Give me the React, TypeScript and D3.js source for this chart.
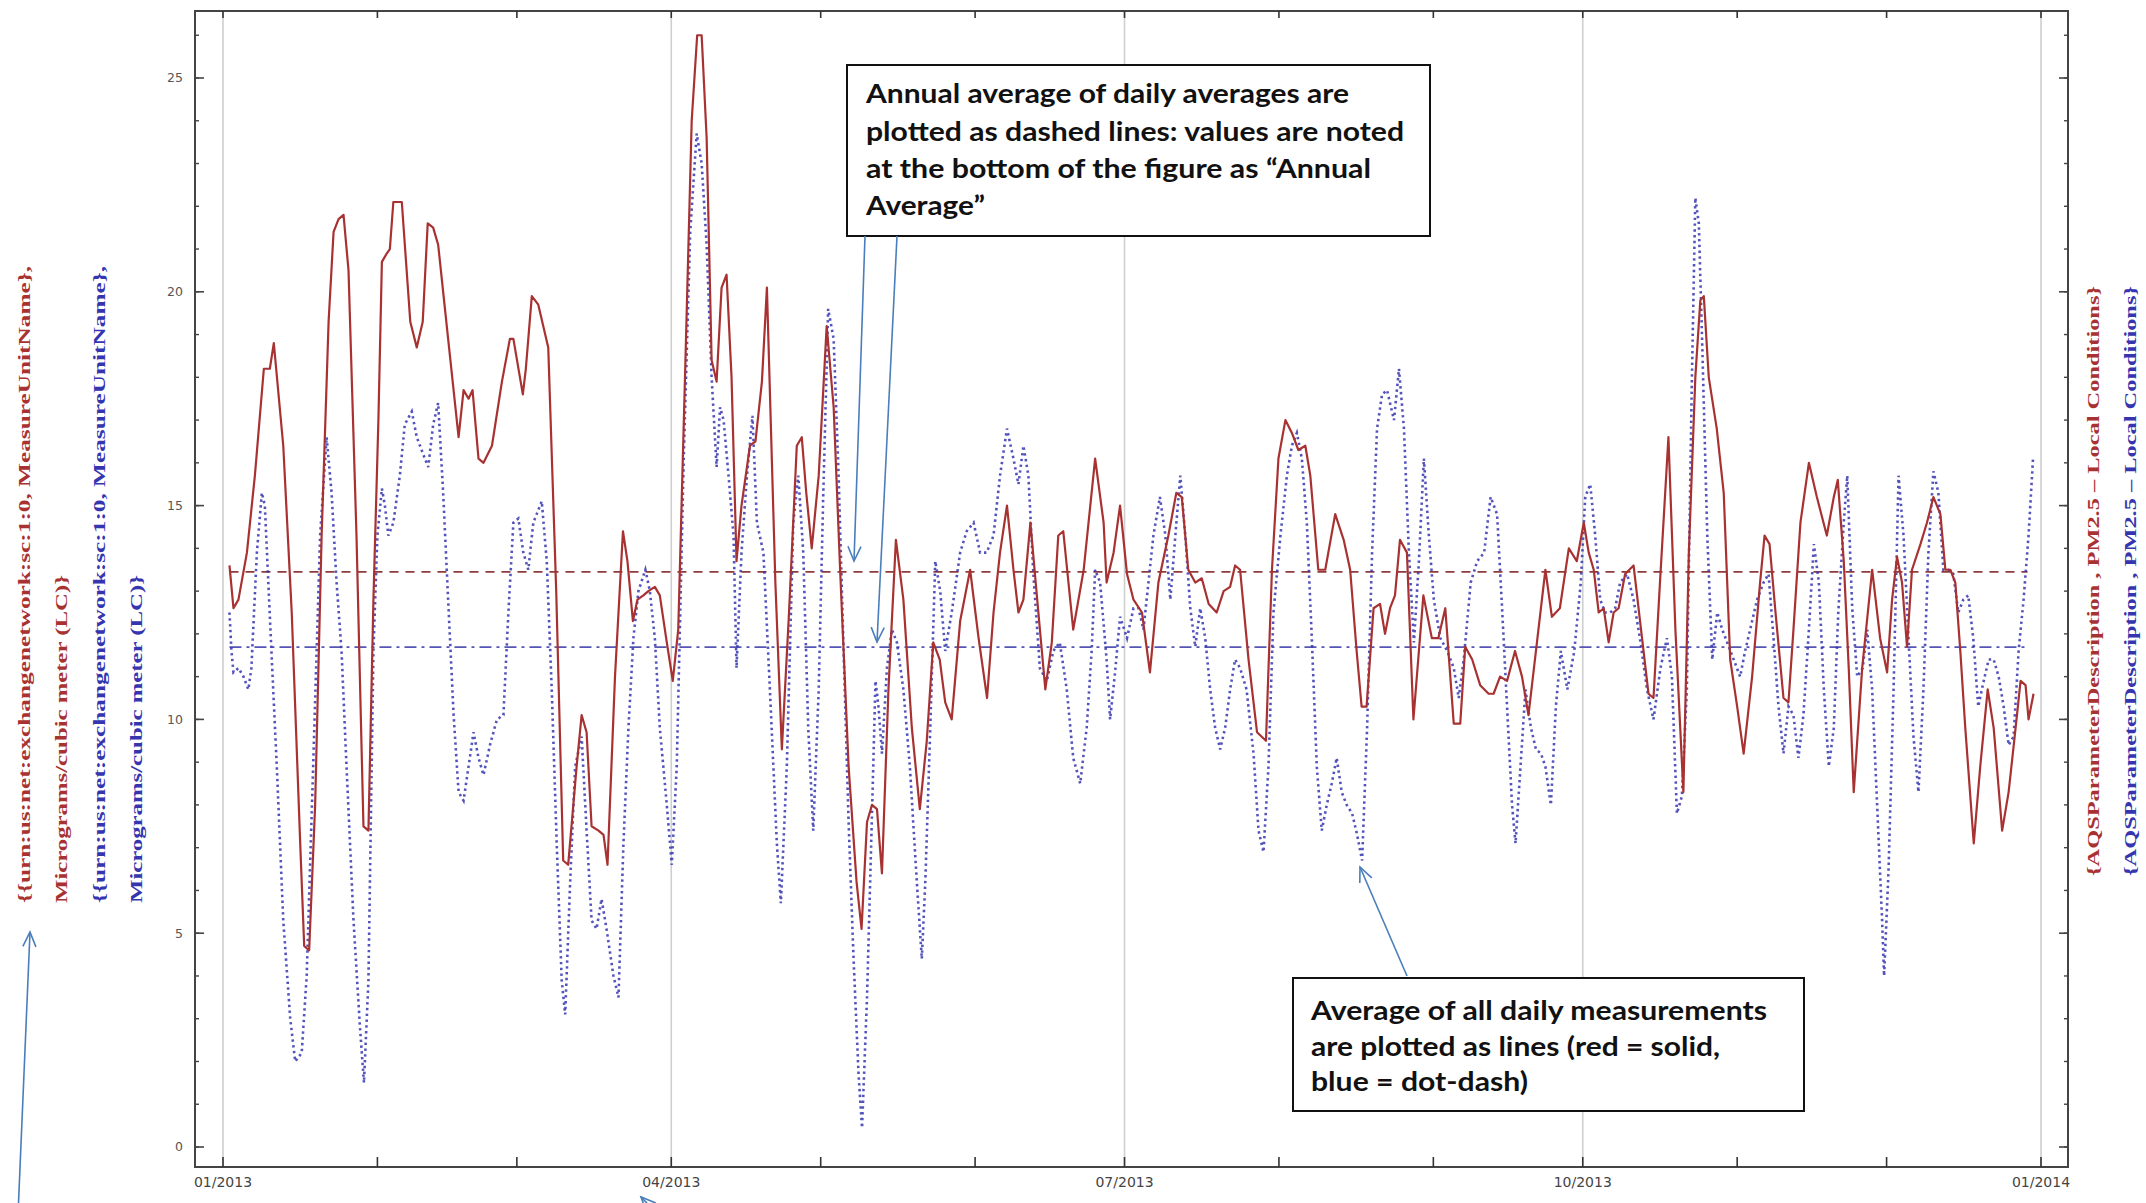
import React from "react";
import * as d3 from "d3";

// ---------- DATA (day offset from 01/01/2013, value in µg/m³) ----------
const redDays = [1.3,2.1,3.1,4.8,6.4,8.2,9.4,10.2,12.1,13.8,15.5,16.3,17.3,18.5,19.8,21.2,22.2,23.2,24.2,25.2,26.8,28.2,29.2,30.2,31.2,31.9,32.9,33.5,34.2,35.9,37.6,38.9,40.1,41.1,42.2,43.2,45.2,47.3,48.3,49.3,50.1,51.3,52.3,54,56,57.6,58.3,60.2,60.8,62,63.3,65.3,66.9,68.3,69.3,71,72,73,74,75.4,76.4,77.2,78.7,80.3,81.2,82.3,83.2,84.4,85.4,86.7,87.7,89.1,90.3,91.4,92.8,94.1,95.2,96.1,97.1,98.1,99.1,100.1,101.1,102.1,103.1,104.1,105.8,106.9,108.2,109.2,110.9,112.2,113.6,115.2,116.2,117.1,118.2,119.6,121.2,122.6,123.9,125.6,127.2,128.2,129.3,130.3,131.3,132.3,133.6,135.1,136.6,138.3,139.9,141.3,142.6,143.9,145,146.3,148,150,151.7,153.4,154.7,156,157.4,158.7,159.7,160.7,162.1,163.7,165.1,166.4,167.7,168.7,170.7,172.8,175.1,176.8,177.4,178.8,180.1,181.5,182.8,184.5,186.1,187.8,189.8,191.4,192.5,193.8,195.2,196.5,197.9,199.5,200.9,202.2,203.2,204.2,205.9,207.6,209.4,210.6,211.9,213.3,214.6,215.9,217.3,218.3,219.9,221.3,223.3,225,226.3,227.6,228.6,229.6,231,232.3,233.3,234.3,235.3,236.3,237.7,239,241,242.7,244,245.4,247.1,248.4,249.4,250.8,252.4,254.1,255.1,256.4,257.8,259.4,260.8,262.1,263.8,265.5,266.8,268.4,270.2,271.8,273.2,274.2,275.2,276.2,277.2,278.2,279.2,280.2,281.5,283.2,284.9,286.2,287.2,288.5,290.2,291.6,293.2,294.3,295.6,296.6,297.3,298.3,299.9,301.3,302.6,304,305.3,307,308.6,309.5,310.5,311.7,313.3,314.3,315.3,316.7,318.4,320,322,323.4,324.2,325.4,326.4,327.4,329.1,331.1,332.7,334.1,335.1,336.1,337.1,338.1,339.1,340.8,342.1,343.4,344.8,345.8,346.8,347.8,348.8,349.8,351.5,352.8,354.3,355.5,357.2,358.5,359.9,360.9,361.9,362.5,363.5];
const redValues = [13.6,12.6,12.8,13.9,15.7,18.2,18.2,18.8,16.4,12.5,7.1,4.7,4.6,8,14.3,19.3,21.4,21.7,21.8,20.5,14.3,7.5,7.4,12.8,17,20.7,20.9,21,22.1,22.1,19.3,18.7,19.3,21.6,21.5,21.1,18.9,16.6,17.7,17.5,17.7,16.1,16,16.4,17.9,18.9,18.9,17.6,18.2,19.9,19.7,18.7,13,6.7,6.6,8.9,10.1,9.7,7.5,7.4,7.3,6.6,11,14.4,13.7,12.3,12.8,12.9,13,13.1,12.9,11.8,10.9,12.1,18.2,24,26,26,23.6,18.4,17.9,20.1,20.4,18,13.7,15,16.4,16.5,17.9,20.1,13.2,9.3,12.4,16.4,16.6,15.3,14,15.7,19.2,17.3,13.5,8.9,6.2,5.1,7.6,8,7.9,6.4,10.7,14.2,12.8,9.8,7.9,9.5,11.8,11.4,10.4,10,12.3,13.5,11.9,10.5,12.5,13.9,15,13.5,12.5,12.8,14.6,12.5,10.7,11.8,14.3,14.4,12.1,13.5,16.1,14.6,13.2,13.9,15,13.4,12.8,12.5,11.1,13.2,14.3,15.3,15.2,13.5,13.2,13.3,12.7,12.5,13,13.1,13.6,13.5,11.4,9.7,9.5,13.5,16.1,17,16.7,16.3,16.4,15.7,13.5,13.5,14.8,14.2,13.5,11.6,10.3,10.3,12.6,12.7,12,12.6,12.9,14.2,13.9,10,12.9,11.9,11.9,12.6,9.9,9.9,11.7,11.4,10.8,10.6,10.6,11,10.9,11.6,11,10.1,11.8,13.5,12.4,12.6,14,13.7,14.6,13.9,13.5,12.5,12.6,11.8,12.5,12.6,13.4,13.6,11.9,10.6,10.5,13.2,16.6,12.1,8.3,13.9,18,19.8,19.9,18,16.8,15.3,11.4,10.3,9.2,11,13.2,14.3,14.1,12.5,10.5,10.4,12.1,14.6,16,15.2,14.3,15.2,15.6,13.7,11.2,8.3,11.2,13.5,11.9,11.1,12.8,13.8,13.2,11.7,13.5,14.1,14.6,15.2,14.8,13.5,13.5,13.2,11.6,9.8,7.1,8.9,10.7,9.8,7.4,8.3,9.8,10.9,10.8,10,10.6];

const blueDays = [1.3,1.7,2.1,3.1,4.1,5.1,5.7,6.8,7.8,8.4,9.1,9.8,10.8,12.1,13.5,14.5,15.8,16.8,18.1,19.5,20.8,21.8,22.8,23.8,24.8,26.2,27.5,28.3,29.2,30.2,31,31.9,32.5,33.2,34.2,35.5,36.5,37.9,38.9,40.2,41.2,42.2,43.2,44.2,45.2,46.3,47.3,48.3,49.3,50.3,51.3,52.3,53.6,55,56.3,57.3,58.3,59.3,60.3,61.3,62.3,64,65,66,67,68,68.7,69.7,70.7,72,73,74,75,76,77,78.4,79.4,80.4,81.4,82.4,83.4,84.8,85.7,86.7,87.7,89.1,90.1,91.1,92.5,93.8,95.1,96.1,97.1,98.1,99.1,99.8,100.5,101.5,102.5,103.1,104.1,105.2,106.3,107.2,108.5,109.8,111.2,112,113.2,114.5,115.5,116.5,117.5,118.5,119.6,120.5,121.5,122.6,123.6,124.6,125.6,126.6,127.6,128.3,129.3,130.3,131,131.6,132.3,133.3,134.3,135.3,136.6,137.9,139.3,140.3,141,142,143,144,145,146.3,148,149.3,150.7,152,153.3,154.7,156,157.4,158.7,159.7,160.7,161.7,162.7,164,165.4,166.7,168,169.4,170.7,172.1,173.4,174.4,175.1,176.1,177.4,178.1,179.1,180.1,181.5,182.8,183.8,184.8,185.8,186.8,188.1,189.2,190.2,191.2,192.2,193.2,194.2,195.2,196.2,197.2,198.2,199.2,200.2,201.2,202.2,203.2,204.2,205.5,206.9,207.9,208.9,209.9,210.9,212.3,213.6,214.6,215.6,216.6,217.6,218.6,219.6,220.6,221.6,222.6,223.6,224.6,225.6,226.7,227.7,228.7,229.7,230.7,231.7,232.7,233.7,235.1,236.1,237.1,238.1,239.1,240.1,241.1,242.1,243.1,244.4,245.8,247.1,248.1,249.1,250.5,251.8,253.2,254.5,255.8,256.8,257.8,258.8,259.5,260.5,261.5,262.6,263.6,264.6,265.5,266.6,267.6,268.6,269.9,271.3,272.6,273.5,274.5,275.5,276.5,277.5,278.5,279.5,280.5,281.9,283.2,284.6,285.9,287.2,288.6,289.9,290.9,291.9,292.9,293.9,294.9,295.6,296.3,297,298,299,300,301,302,303.3,304.6,305.6,307,308,309.3,310.3,311.3,312.3,313.3,314.3,315.3,316.3,317.3,318.4,319.4,320.4,321.4,322.4,323.4,324.3,325.4,326.1,327.1,328.1,329.2,330.1,331.1,332.1,333.1,333.5,334.4,335.4,336.4,337.4,338.4,339.4,340.4,341.4,342.4,343.4,344.4,345.4,346.4,347.4,348.4,349.4,350.4,351.4,352.4,353.5,354.5,355.5,356.5,357.5,358.5,359.5,360.5,361.5,362.5,363.4];
const blueValues = [12.5,11.6,11.1,11.2,11,10.7,11.2,13.9,15.3,15,13.2,11.4,8.9,5.3,3,2,2.2,4,8.9,14.3,16.6,15.3,13.2,11.6,8.9,5.3,2.8,1.5,3.9,11.6,14.3,15.4,15,14.3,14.6,15.7,16.9,17.2,16.6,16.2,15.9,16.9,17.4,15.3,12.8,10.1,8.3,8.1,8.9,9.7,9.1,8.7,9.4,10,10.1,12.5,14.6,14.7,13.9,13.5,14.6,15.1,13.7,10.7,7.1,3.9,3.1,6.2,8.9,9.6,7.4,5.3,5.1,5.8,5.1,4,3.5,7.1,9.8,11.9,13,13.5,13,11.9,9.8,8,6.6,8.9,16.1,21.4,23.7,23,21.1,18,15.9,17.3,17,15.7,14.3,11.2,13.9,15.7,17.1,14.6,13.9,10.7,7.1,5.7,8.9,14.6,15.7,13.9,9.8,7.4,10.7,15.2,19.6,18.9,15.7,11.6,7.6,4.4,1.7,0.45,3.5,7.8,10.9,10.3,9.2,11.2,12.1,11.8,10.7,8.9,6.2,4.4,6.2,9.8,13.7,13,11.6,12.5,13.9,14.4,14.6,13.9,13.9,14.3,15.7,16.8,16.1,15.5,16.4,15.7,13.4,11.2,10.9,11.6,11.8,10.7,9.1,8.5,9.8,11.6,13.5,13.2,11.4,10,11.1,12.4,11.9,12.6,12.6,12.1,13.2,14.3,15.2,14.3,12.8,14.3,15.7,14.3,12.6,11.7,12.6,11.9,10.7,9.8,9.3,9.8,10.7,11.4,11.2,10.7,9.2,7.4,6.9,8.9,12.5,14.3,15.7,16.4,16.7,16.1,14.6,11.9,8.9,7.4,8,8.5,9.1,8.3,8,7.8,7.3,6.7,9.8,13.9,16.8,17.6,17.7,17,18.2,16.8,13.9,11.8,13.7,16.1,14.3,12.8,11.9,11.6,11.2,10.5,11.4,13.2,13.7,13.9,15.2,14.8,12.6,10.3,8,7.1,8.9,10.7,9.8,9.3,9.2,8.9,8,10.3,11.6,10.7,11.6,13.2,15.2,15.5,14.3,12.8,12.5,12.5,12.6,13.2,13.4,12.8,11.8,10.7,10,11.2,11.9,11,7.8,8.2,10.7,17.9,22.2,21.6,18.7,14.3,11.4,12.5,12.1,11.8,11.4,11,11.6,12.3,12.8,13.2,13.4,11.9,10.3,9.2,10.3,10.1,9.1,10.1,12.1,14.1,13.2,10.7,8.9,9.8,12.5,14.6,15.7,12.6,11,11.2,12.1,10.7,8,5.3,4,6.5,10.7,15.7,14.3,11.9,9.6,8.3,10.7,13.9,15.8,15.3,13.5,13.5,13.4,12.5,12.8,12.9,11.9,10.3,10.9,11.4,11.4,11,10.3,9.4,9.6,11.6,12.8,14.3,16.1];

const redAnnualAverage = 13.45;
const blueAnnualAverage = 11.69;

const yMajorTicks = [0, 5, 10, 15, 20, 25];
const yMinorTicks = d3.range(0, 27, 1);

const leftLabelLines = ["{{urn:us:net:exchangenetwork:sc:1:0, MeasureUnitName},", "Micrograms/cubic meter (LC)}"];
const rightLabel = "{AQSParameterDescription , PM2.5 \u2013 Local Conditions}";

const note1Lines = ["Annual average of daily averages are", "plotted as dashed lines: values are noted", "at the bottom of the figure as \u201CAnnual", "Average\u201D"];
const note2Lines = ["Average of all daily measurements", "are plotted as lines (red = solid,", "blue = dot-dash)"];

// ---------- LAYOUT ----------
const W = 2146, H = 1203;
const FRAME = { left: 195, right: 2068, top: 11, bottom: 1167 };
const START = Date.UTC(2013, 0, 1);
const END = Date.UTC(2014, 0, 1);
const toDate = (d: number) => new Date(START + d * 86400000);

const RED = "#a83232";
const BLUE = "#3535b0";
const ARROW = "#4a7ebb";

function Arrow({ x1, y1, x2, y2 }: { x1: number; y1: number; x2: number; y2: number }) {
  const ang = Math.atan2(y2 - y1, x2 - x1);
  const L = 16, a = 0.42;
  const p1 = [x2 - L * Math.cos(ang - a), y2 - L * Math.sin(ang - a)];
  const p2 = [x2 - L * Math.cos(ang + a), y2 - L * Math.sin(ang + a)];
  return (
    <g stroke={ARROW} strokeWidth={1.6} fill="none">
      <line x1={x1} y1={y1} x2={x2} y2={y2} />
      <polyline points={`${p1[0]},${p1[1]} ${x2},${y2} ${p2[0]},${p2[1]}`} />
    </g>
  );
}

export default function App() {
  const x = d3.scaleUtc().domain([new Date(START), new Date(END)]).range([223, 2041]);
  const y = d3.scaleLinear().domain([0, 25]).range([1147, 78]);

  const redData = redDays.map((d, i) => ({ date: toDate(d), v: redValues[i] }));
  const blueData = blueDays.map((d, i) => ({ date: toDate(d), v: blueValues[i] }));

  const line = d3
    .line<{ date: Date; v: number }>()
    .x((p) => x(p.date))
    .y((p) => y(p.v))
    .curve(d3.curveLinear);

  const months = d3.utcMonth.range(new Date(START), new Date(END + 1));
  const quarters = d3.utcMonth.every(3)!.range(new Date(START), new Date(END + 1));
  const fmt = d3.utcFormat("%m/%Y");

  const avgX1 = x(toDate(Math.min(redDays[0], blueDays[0])));
  const avgX2 = x(toDate(362.3));

  const serif = "'Liberation Serif', 'Times New Roman', serif";
  const sans = "'DejaVu Sans', Verdana, sans-serif";
  const note = "Lato, 'Open Sans', sans-serif";

  const note1Len = [483, 538, 505, 119];
  const note2Len = [456, 409, 217];

  return (
    <svg width={W} height={H} style={{ position: "absolute", left: 0, top: 0, background: "#fff" }}>
      <rect x={0} y={0} width={W} height={H} fill="#fff" />

      {/* quarterly grid lines */}
      {quarters.map((q, i) => (
        <line key={"g" + i} x1={x(q)} x2={x(q)} y1={FRAME.top} y2={FRAME.bottom} stroke="#cfcfcf" strokeWidth={1.6} />
      ))}

      {/* annual averages */}
      <line x1={avgX1} x2={avgX2} y1={y(redAnnualAverage)} y2={y(redAnnualAverage)} stroke="#8e3b3b" strokeWidth={1.6} strokeDasharray="9 7" />
      <line x1={avgX1} x2={avgX2} y1={y(blueAnnualAverage)} y2={y(blueAnnualAverage)} stroke="#5555b5" strokeWidth={1.6} strokeDasharray="12 5 3 5" />

      {/* series */}
      <path d={line(blueData) || ""} fill="none" stroke={BLUE} strokeWidth={2.6} strokeDasharray="2.4 3.4" opacity={0.85} />
      <path d={line(redData) || ""} fill="none" stroke={RED} strokeWidth={2.2} strokeLinejoin="round" />

      {/* frame */}
      <rect x={FRAME.left} y={FRAME.top} width={FRAME.right - FRAME.left} height={FRAME.bottom - FRAME.top} fill="none" stroke="#444" strokeWidth={2} />

      {/* month ticks bottom/top */}
      {months.map((m, i) => (
        <g key={"m" + i} stroke="#333" strokeWidth={1.6}>
          <line x1={x(m)} x2={x(m)} y1={FRAME.bottom} y2={FRAME.bottom - 10} />
          <line x1={x(m)} x2={x(m)} y1={FRAME.top} y2={FRAME.top + 7} />
        </g>
      ))}

      {/* quarter labels */}
      {quarters.map((q, i) => (
        <text key={"ql" + i} x={x(q)} y={1187} textAnchor="middle" fontFamily={sans} fontSize={14} fill="#444">
          {fmt(q)}
        </text>
      ))}

      {/* y ticks */}
      {yMinorTicks.map((t) => (
        <g key={"mt" + t} stroke="#444" strokeWidth={1.4}>
          <line x1={FRAME.left} x2={FRAME.left + 4} y1={y(t)} y2={y(t)} />
          <line x1={FRAME.right} x2={FRAME.right - 4} y1={y(t)} y2={y(t)} />
        </g>
      ))}
      {yMajorTicks.map((t) => (
        <g key={"yt" + t}>
          <line x1={FRAME.left} x2={FRAME.left + 9} y1={y(t)} y2={y(t)} stroke="#444" strokeWidth={1.6} />
          <line x1={FRAME.right} x2={FRAME.right - 9} y1={y(t)} y2={y(t)} stroke="#444" strokeWidth={1.6} />
          <text x={183} y={y(t)} dy="0.35em" textAnchor="end" fontFamily={sans} fontSize={12.5} fill="#555">
            {t}
          </text>
        </g>
      ))}

      {/* left axis labels */}
      {[RED, BLUE].map((c, k) =>
        leftLabelLines.map((s, j) => {
          const cx = [25, 62, 100, 137][k * 2 + j];
          return (
            <text
              key={"ll" + k + j}
              transform={`translate(${cx + 5},903) rotate(-90)`}
              fontFamily={serif}
              fontWeight={700}
              fontSize={17}
              fill={c}
              textLength={j === 0 ? 637 : 328}
              lengthAdjust="spacingAndGlyphs"
            >
              {s}
            </text>
          );
        })
      )}

      {/* right axis labels */}
      {[RED, BLUE].map((c, k) => (
        <text
          key={"rl" + k}
          transform={`translate(${[2094, 2131][k] + 5},876) rotate(-90)`}
          fontFamily={serif}
          fontWeight={700}
          fontSize={17}
          fill={c}
          textLength={590}
          lengthAdjust="spacingAndGlyphs"
        >
          {rightLabel}
        </text>
      ))}

      {/* annotation 1 */}
      <rect x={847} y={65} width={583} height={171} fill="#fff" stroke="#111" strokeWidth={2} />
      {note1Lines.map((s, i) => (
        <text key={"n1" + i} x={866} y={[103, 141, 178, 215][i]} fontFamily={note} fontWeight={700} fontSize={27} fill="#111" textLength={note1Len[i]} lengthAdjust="spacingAndGlyphs">
          {s}
        </text>
      ))}
      <Arrow x1={865} y1={236} x2={854} y2={561} />
      <Arrow x1={897} y1={236} x2={877} y2={642} />

      {/* annotation 2 */}
      <rect x={1293} y={978} width={511} height={133} fill="#fff" stroke="#111" strokeWidth={2} />
      {note2Lines.map((s, i) => (
        <text key={"n2" + i} x={1311} y={[1020, 1056, 1091][i]} fontFamily={note} fontWeight={700} fontSize={27} fill="#111" textLength={note2Len[i]} lengthAdjust="spacingAndGlyphs">
          {s}
        </text>
      ))}
      <Arrow x1={1407} y1={976} x2={1360} y2={867} />

      {/* stray arrows */}
      <Arrow x1={18} y1={1215} x2={30} y2={932} />
      <Arrow x1={668} y1={1225} x2={641} y2={1197} />
    </svg>
  );
}
